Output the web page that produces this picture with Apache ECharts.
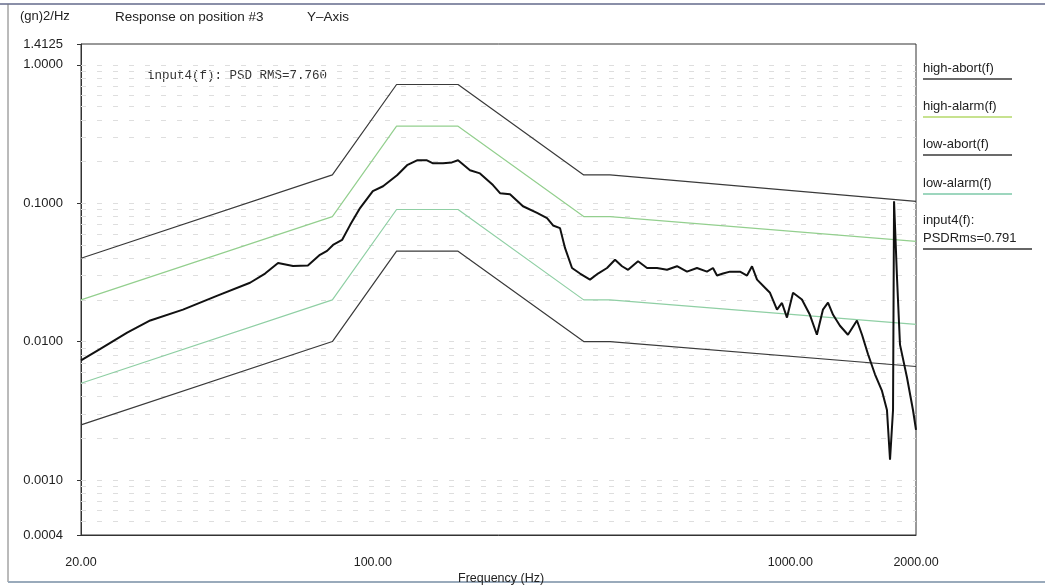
<!DOCTYPE html>
<html><head><meta charset="utf-8">
<script src="https://cdn.jsdelivr.net/npm/echarts@6/dist/echarts.min.js"></script>
<style>html,body{margin:0;padding:0;background:#fff}#c{width:1045px;height:585px}</style>
</head><body><div id="c"></div>
<script>
// ---- data ----
const inputFreq = [20,22.2,25.8,29.3,35.1,42.3,50.8,55.2,59.3,64.4,69.9,74.7,77.7,80.3,84.4,88.2,93.2,100,105.8,114.3,120.8,127.6,134.8,139.4,147.3,154.7,160,170.9,180.6,194,201.7,213.1,228.9,247.4,261.4,270.2,280.8,288.6,300,313.5,331.3,346.2,363.9,380.3,395.3,408.7,431.8,453.7,479.4,506.6,535.3,565.6,597.6,631.5,652.8,667.4,690,717,757.7,787.5,809.6,832.3,869.7,894,929.2,955,981.7,1015,1066,1114,1158,1197,1231,1266,1315,1374,1444,1485,1535,1595,1658,1704,1733,1762,1772,1801,1831,1903,1967,2000];
const inputPsd = [0.0073,0.0088,0.0116,0.0142,0.0170,0.0214,0.0266,0.031,0.037,0.0352,0.0355,0.0423,0.0452,0.0499,0.0542,0.0694,0.0921,0.122,0.1325,0.159,0.188,0.204,0.204,0.194,0.194,0.197,0.204,0.173,0.164,0.135,0.118,0.116,0.095,0.085,0.078,0.069,0.066,0.0475,0.034,0.031,0.028,0.031,0.034,0.039,0.035,0.033,0.038,0.034,0.034,0.033,0.035,0.032,0.034,0.032,0.034,0.030,0.031,0.032,0.032,0.030,0.035,0.028,0.0245,0.0225,0.017,0.019,0.0149,0.0225,0.0201,0.0156,0.0112,0.0170,0.0191,0.0156,0.0130,0.0112,0.0142,0.0112,0.0081,0.0058,0.0044,0.0032,0.0014,0.0032,0.103,0.029,0.0095,0.0055,0.0032,0.0023];
const limitFreq = [20, 80, 114, 160, 320, 370, 2000];
const highAbort = [0.04, 0.16, 0.72, 0.72, 0.16, 0.16, 0.103];
const highAlarm = [0.02, 0.08, 0.36, 0.36, 0.08, 0.08, 0.053];
const lowAlarm  = [0.005, 0.02, 0.09, 0.09, 0.02, 0.02, 0.0133];
const lowAbort  = [0.0025, 0.01, 0.045, 0.045, 0.01, 0.01, 0.0066];
const yMin = 0.0004, yMax = 1.4125;
const xMin = 20, xMax = 2000;
const gridDecades = [0.0001, 0.001, 0.01, 0.1, 1];
const gridMultiples = [1, 2, 3, 4, 5, 6, 7, 8, 9];
const legendNames = ['high-abort(f)', 'high-alarm(f)', 'low-abort(f)', 'low-alarm(f)'];
const inputLegend = ['input4(f):', 'PSDRms=0.791'];
const annotation = 'input4(f): PSD RMS=7.760';

// ---- build ----
const pairs = (xs, ys) => xs.map((x, i) => [x, ys[i]]);
const gridVals = [];
gridDecades.forEach(d => gridMultiples.forEach(m => {
  const v = +(d * m).toPrecision(3);
  if (v > yMin && v < yMax) gridVals.push(v);
}));

const DARK = '#3a3a3a', GREEN = '#93cf8e', GREEN2 = '#8fcfa4';
const font = 'Liberation Sans, Arial, sans-serif';

const chart = echarts.init(document.getElementById('c'), null, {renderer: 'canvas'});
const legendColors = [DARK, '#b5d96a', DARK, '#7cc9a8'];
const legendY = [70, 108, 146, 185];
const graphics = [
  {type: 'line', shape: {x1: 0, y1: 4, x2: 1045, y2: 4}, style: {stroke: '#8a8fa8', lineWidth: 2}},
  {type: 'line', shape: {x1: 8, y1: 4, x2: 8, y2: 582}, style: {stroke: '#777', lineWidth: 1}},
  {type: 'line', shape: {x1: 8, y1: 582, x2: 1045, y2: 582}, style: {stroke: '#9ab', lineWidth: 2}},
  {type: 'text', left: 20, top: 10, style: {text: '(gn)2/Hz', font: '13px ' + font, fill: '#222'}},
  {type: 'text', left: 115, top: 10, style: {text: 'Response on position #3', font: '13.5px ' + font, fill: '#222'}},
  {type: 'text', left: 307, top: 10, style: {text: 'Y\u2013Axis', font: '13.5px ' + font, fill: '#222'}},
  {type: 'text', left: 147, top: 69, style: {text: annotation, font: '12.5px Liberation Mono, DejaVu Sans Mono, monospace', fill: '#333'}},
  {type: 'text', left: 458, top: 572, style: {text: 'Frequency (Hz)', font: '12.5px ' + font, fill: '#222'}}
];
legendNames.forEach((n, i) => {
  graphics.push({type: 'text', left: 923, top: legendY[i] - 8, style: {text: n, font: '13px ' + font, fill: '#222'}});
  graphics.push({type: 'line', shape: {x1: 923, y1: legendY[i] + 9, x2: 1012, y2: legendY[i] + 9}, style: {stroke: legendColors[i], lineWidth: 1.5}});
});
graphics.push({type: 'text', left: 923, top: 214, style: {text: inputLegend[0], font: '13px ' + font, fill: '#222'}});
graphics.push({type: 'text', left: 923, top: 232, style: {text: inputLegend[1], font: '13px ' + font, fill: '#222'}});
graphics.push({type: 'line', shape: {x1: 923, y1: 249, x2: 1032, y2: 249}, style: {stroke: '#333', lineWidth: 1.5}});

const limitSeries = (name, ys, color, w) => ({
  name, type: 'line', data: pairs(limitFreq, ys), showSymbol: false, symbol: 'none',
  lineStyle: {color, width: w}, silent: true, z: 3
});

chart.setOption({
  animation: false,
  backgroundColor: '#fff',
  grid: {left: 81, right: 129, top: 44, bottom: 50, show: true, borderColor: '#333', borderWidth: 1, backgroundColor: 'transparent'},
  xAxis: {
    type: 'log', logBase: 10, min: xMin, max: xMax,
    axisLine: {show: true, lineStyle: {color: '#333'}},
    axisTick: {show: false},
    splitLine: {show: false},
    axisLabel: {color: '#222', fontSize: 12.5, fontFamily: font, margin: 21,
      formatter: v => (+v).toFixed(2)}
  },
  yAxis: {
    type: 'log', logBase: 10, min: yMin, max: yMax,
    axisLine: {show: true, lineStyle: {color: '#333'}},
    axisTick: {show: true, length: 4, lineStyle: {color: '#333'}},
    splitLine: {show: false},
    axisLabel: {color: '#222', fontSize: 13, fontFamily: font, margin: 18,
      formatter: v => (+v).toFixed(4)}
  },
  graphic: graphics,
  series: [
    {
      name: 'grid', type: 'line', data: [], silent: true, z: 1,
      markLine: {silent: true, symbol: 'none', label: {show: false}, precision: 8, z: 1,
        lineStyle: {color: '#dedede', type: [5, 11], width: 1},
        data: gridVals.map(v => ({yAxis: v}))}
    },
    limitSeries('high-abort(f)', highAbort, DARK, 1.2),
    limitSeries('high-alarm(f)', highAlarm, GREEN, 1.2),
    limitSeries('low-alarm(f)', lowAlarm, GREEN2, 1.2),
    limitSeries('low-abort(f)', lowAbort, DARK, 1.2),
    {
      name: 'input4(f)', type: 'line', data: pairs(inputFreq, inputPsd),
      showSymbol: false, symbol: 'none', lineStyle: {color: '#111', width: 2}, z: 4
    }
  ]
});
</script></body></html>
